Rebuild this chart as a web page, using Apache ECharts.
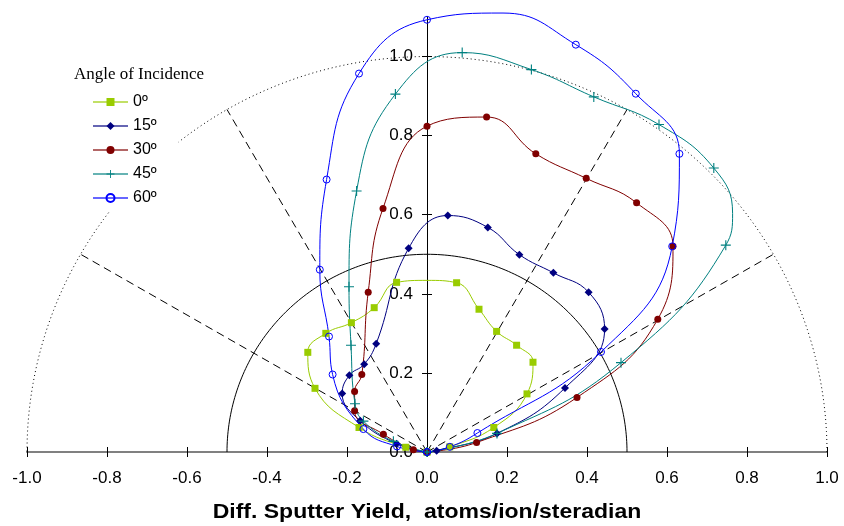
<!DOCTYPE html>
<html>
<head>
<meta charset="utf-8">
<script src="https://cdn.jsdelivr.net/npm/echarts@6/dist/echarts.min.js"></script>
<style>
  html, body { margin: 0; padding: 0; background: #fff; }
  #chart { width: 844px; height: 526px; }
</style>
</head>
<body>
<div id="chart"></div>
<script>
// Angular distributions of sputtered atoms, plotted as (x, y) = yield projected
// on the surface plane / surface normal. One curve per angle of incidence.
const seriesNames = ['0º', '15º', '30º', '45º', '60º'];

const deg0 = [
  [0, 0], [-0.053, 0.012], [-0.170, 0.062], [-0.280, 0.161], [-0.298, 0.252],
  [-0.253, 0.300], [-0.189, 0.327], [-0.132, 0.365], [-0.076, 0.429], [0, 0.434],
  [0.074, 0.428], [0.130, 0.361], [0.174, 0.305], [0.224, 0.270], [0.265, 0.227],
  [0.250, 0.147], [0.167, 0.062], [0.057, 0.013], [0, 0]
];
const deg15 = [
  [0, 0], [-0.076, 0.021], [-0.167, 0.079], [-0.212, 0.148], [-0.194, 0.194],
  [-0.157, 0.222], [-0.127, 0.274], [-0.046, 0.515], [0.052, 0.598], [0.152, 0.568],
  [0.231, 0.499], [0.316, 0.453], [0.404, 0.404], [0.444, 0.311], [0.345, 0.162],
  [0.175, 0.047], [0.024, 0.003], [0, 0]
];
const deg30 = [
  [0, 0], [-0.034, 0.006], [-0.109, 0.045], [-0.181, 0.104], [-0.181, 0.153],
  [-0.163, 0.196], [-0.147, 0.404], [-0.110, 0.616], [0, 0.824], [0.149, 0.847],
  [0.272, 0.754], [0.398, 0.692], [0.524, 0.630], [0.615, 0.520], [0.577, 0.336],
  [0.375, 0.138], [0.124, 0.024], [0, 0]
];
const deg45 = [
  [0, 0], [-0.084, 0.027], [-0.159, 0.078], [-0.180, 0.122], [-0.190, 0.270],
  [-0.195, 0.418], [-0.176, 0.660], [-0.079, 0.905], [0.088, 1.010], [0.261, 0.967],
  [0.417, 0.898], [0.580, 0.828], [0.717, 0.718], [0.764, 0.603], [0.747, 0.523],
  [0.485, 0.226], [0.175, 0.047], [0, 0]
];
const deg60 = [
  [0, 0], [-0.075, 0.014], [-0.159, 0.058], [-0.236, 0.196], [-0.245, 0.292],
  [-0.268, 0.461], [-0.251, 0.689], [-0.170, 0.957], [0, 1.093], [0.190, 1.110],
  [0.372, 1.030], [0.522, 0.906], [0.631, 0.754], [0.613, 0.520], [0.435, 0.253],
  [0.126, 0.048], [0.057, 0.013], [0, 0]
];
// points that shape a curve but carry no marker
const unmarked = { '0º': [9], '45º': [13], '60º': [9] };

const xTicks = [-1.0, -0.8, -0.6, -0.4, -0.2, 0.0, 0.2, 0.4, 0.6, 0.8, 1.0];
const yTicks = [0.0, 0.2, 0.4, 0.6, 0.8, 1.0];

// reference geometry: half circles and radial guide lines (degrees from +x)
const halfCircleRadii = [0.5, 1.0];
const guideAngles = [30, 60, 120, 150];

const FONT = '"Liberation Sans", Arial, sans-serif';
const fmt = v => v.toFixed(1);

// plot area: x from -1 to 1 over 800 px, the y axis sits at x = 0
const GRID_LEFT = 27, GRID_WIDTH = 800;

function arc(r) {
  const pts = [];
  for (let a = 0; a <= 180; a += 1) {
    const t = a * Math.PI / 180;
    pts.push([r * Math.cos(t), r * Math.sin(t)]);
  }
  return pts;
}

const guideSeries = [];
guideSeries.push({
  type: 'line', data: arc(halfCircleRadii[0]), symbol: 'none', silent: true, clip: false,
  lineStyle: { color: '#000', width: 1 }, z: 1
});
guideSeries.push({
  type: 'line', data: arc(halfCircleRadii[1]), symbol: 'none', silent: true, clip: false,
  lineStyle: { color: '#000', width: 1, type: [1, 3] }, z: 1
});
guideAngles.forEach(a => {
  const t = a * Math.PI / 180;
  guideSeries.push({
    type: 'line', data: [[0, 0], [Math.cos(t), Math.sin(t)]], symbol: 'none', silent: true,
    lineStyle: { color: '#000', width: 1, type: [8, 5] }, z: 1
  });
});

const plusPath = 'path://M0,4H9V5H0Z M4,0H5V9H4Z';

const styles = {
  '0º':  { color: '#99CC00', symbol: 'rect', size: 7 },
  '15º': { color: '#000080', symbol: 'diamond', size: 8 },
  '30º': { color: '#800000', symbol: 'circle', size: 7 },
  '45º': { color: '#008080', symbol: plusPath, size: 10 },
  '60º': { color: '#0000FF', symbol: 'circle', size: 7, hollow: true }
};

function curve(name, pts) {
  const st = styles[name];
  const skip = unmarked[name] || [];
  return {
    name: name,
    type: 'line',
    smooth: 0.45,
    clip: false,
    data: pts.map((p, i) => skip.includes(i) ? { value: p, symbol: 'none' } : p),
    symbol: st.symbol,
    symbolSize: st.size,
    showAllSymbol: true,
    lineStyle: { color: st.color, width: 1 },
    itemStyle: st.hollow
      ? { color: 'rgba(255,255,255,0)', borderColor: st.color, borderWidth: 1 }
      : { color: st.color, borderWidth: 0 },
    emphasis: { disabled: true },
    z: 3
  };
}

const dataSeries = [
  curve('0º', deg0), curve('15º', deg15), curve('30º', deg30),
  curve('45º', deg45), curve('60º', deg60)
];

const chart = echarts.init(document.getElementById('chart'), null, { renderer: 'canvas' });
chart.setOption({
  animation: false,
  backgroundColor: '#fff',
  grid: { left: GRID_LEFT, top: 17, width: GRID_WIDTH, height: 435,
          containLabel: false, outerBoundsMode: 'none' },
  xAxis: [
    {
      type: 'value', min: -1, max: 1, interval: 0.2, position: 'bottom',
      axisLine: { onZero: false, lineStyle: { color: '#808080', width: 2 } },
      axisTick: { length: 5, customValues: xTicks, lineStyle: { color: '#000', width: 1 } },
      axisLabel: { formatter: fmt, fontFamily: FONT, fontSize: 17, color: '#000', margin: 18,
                   customValues: xTicks },
      splitLine: { show: false }
    },
    {
      type: 'value', min: -1, max: 1, interval: 0.2, position: 'bottom',
      axisLine: { show: false, onZero: false },
      axisTick: { inside: true, length: 5, customValues: xTicks, lineStyle: { color: '#000', width: 1 } },
      axisLabel: { show: false },
      splitLine: { show: false }
    }
  ],
  yAxis: [
    {
      type: 'value', min: 0, max: 1.1, position: 'left', offset: -GRID_WIDTH / 2,
      axisLine: { show: true, onZero: false, lineStyle: { color: '#000', width: 1 } },
      axisTick: { length: 5, customValues: yTicks, lineStyle: { color: '#000', width: 1 } },
      axisLabel: { customValues: yTicks, formatter: fmt, fontFamily: FONT, fontSize: 17,
                   color: '#000', margin: 14 },
      splitLine: { show: false }
    },
    {
      type: 'value', min: 0, max: 1.1, position: 'left', offset: -GRID_WIDTH / 2,
      axisLine: { show: false, onZero: false },
      axisTick: { inside: true, length: 5, customValues: yTicks, lineStyle: { color: '#000', width: 1 } },
      axisLabel: { show: false },
      splitLine: { show: false }
    }
  ],
  legend: {
    orient: 'vertical', left: 84, top: 89,
    data: seriesNames,
    itemWidth: 35, itemHeight: 10, itemGap: 8,
    padding: [5, 22, 5, 8],
    backgroundColor: '#fff',
    selectedMode: false,
    lineStyle: { width: 2, opacity: 0.6 },
    textStyle: { fontFamily: FONT, fontSize: 16, color: '#000' },
    z: 10
  },
  graphic: [
    {
      type: 'text', x: 74, y: 75, scaleX: 1.06, z: 20,
      style: { text: 'Angle of Incidence', font: '16px "Liberation Serif", "Times New Roman", serif',
               fill: '#000', textAlign: 'left', textVerticalAlign: 'middle' }
    },
    {
      type: 'text', x: 427, y: 513, scaleX: 1.18, z: 20,
      style: { text: 'Diff. Sputter Yield,  atoms/ion/steradian',
               font: 'bold 19.5px "Liberation Sans", Arial, sans-serif',
               fill: '#000', textAlign: 'center', textVerticalAlign: 'middle' }
    }
  ],
  series: guideSeries.concat(dataSeries)
});
</script>
</body>
</html>
